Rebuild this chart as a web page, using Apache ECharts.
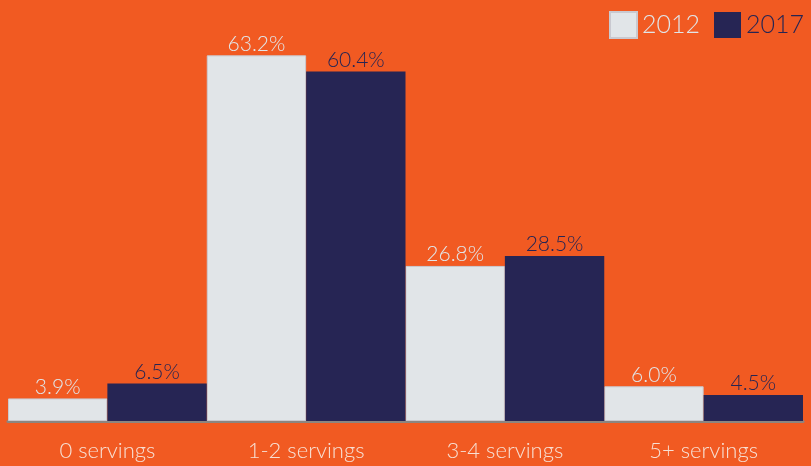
<!DOCTYPE html>
<html>
<head>
<meta charset="utf-8">
<script src="https://cdn.jsdelivr.net/npm/echarts@6/dist/echarts.min.js"></script>
<style>
  html, body { margin: 0; padding: 0; background: #F15A22; }
  #chart { width: 811px; height: 466px; }
</style>
</head>
<body>
<div id="chart"></div>
<script>
// data
const categories = ['0 servings', '1-2 servings', '3-4 servings', '5+ servings'];
const values2012 = [3.9, 63.2, 26.8, 6.0];
const values2017 = [6.5, 60.4, 28.5, 4.5];

const lightColor = '#E1E5E8';
const navyColor = '#262554';

const myChart = echarts.init(document.getElementById('chart'));

const options = {
    backgroundColor: '#F15A22',
    textStyle: { fontFamily: 'Lato' },
    legend: {
        right: 2,
        top: 6,
        itemWidth: 27,
        itemHeight: 26,
        itemGap: 14,
        icon: 'rect',
        textStyle: { fontSize: 25, fontFamily: 'Lato', fontWeight: 300 },
        data: [
            { name: '2012', textStyle: { color: lightColor } },
            { name: '2017', textStyle: { color: navyColor } }
        ]
    },
    grid: { left: 8, right: 8, top: 16, bottom: 45 },
    xAxis: {
        type: 'category',
        data: categories,
        axisTick: { show: false },
        axisLine: { lineStyle: { color: '#8C8580', width: 3 } },
        axisLabel: {
            color: '#F7E0D4',
            fontSize: 22,
            fontFamily: 'Lato',
            fontWeight: 300,
            margin: 19
        }
    },
    yAxis: {
        type: 'value',
        min: 0,
        max: 70,
        show: false,
        splitLine: { show: false }
    },
    series: [
        {
            name: '2012',
            type: 'bar',
            data: values2012,
            barGap: '0%',
            barCategoryGap: '0%',
            itemStyle: { color: lightColor, borderColor: '#C9C9D0', borderWidth: 1 },
            label: {
                show: true,
                position: 'top',
                distance: 1,
                color: lightColor,
                fontSize: 21,
                fontFamily: 'Lato',
                fontWeight: 300,
                formatter: p => p.value.toFixed(1) + '%'
            }
        },
        {
            name: '2017',
            type: 'bar',
            data: values2017,
            barGap: '0%',
            barCategoryGap: '0%',
            itemStyle: { color: navyColor },
            label: {
                show: true,
                position: 'top',
                distance: 1,
                color: navyColor,
                fontSize: 21,
                fontFamily: 'Lato',
                fontWeight: 300,
                formatter: p => p.value.toFixed(1) + '%'
            }
        }
    ]
};

myChart.setOption(options);
</script>
</body>
</html>
